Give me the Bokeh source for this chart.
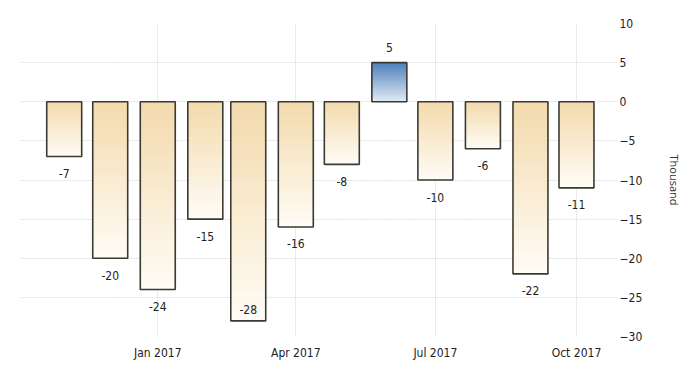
import datetime as dt
from bokeh.plotting import figure
from bokeh.models import ColumnDataSource, Range1d, FixedTicker, DatetimeTickFormatter
from bokeh.core.properties import value
from bokeh.embed import file_html
from bokeh.resources import INLINE

# ---- data ----
months = ["2016-11-01", "2016-12-01", "2017-01-01", "2017-02-01", "2017-03-01", "2017-04-01",
          "2017-05-01", "2017-06-01", "2017-07-01", "2017-08-01", "2017-09-01", "2017-10-01"]
values = [-7, -20, -24, -15, -28, -16, -8, 5, -10, -6, -22, -11]
labels = ["-7", "-20", "-24", "-15", "-28", "-16", "-8", "5", "-10", "-6", "-22", "-11"]
x_tick_dates = ["2017-01-01", "2017-04-01", "2017-07-01", "2017-10-01"]
y_ticks = [-30, -25, -20, -15, -10, -5, 0, 5, 10]
axis_title = "Thousand"

FONT = "DejaVu Sans Condensed"
DAY = 86400000.0


def ms(s):
    d = dt.datetime.strptime(s, "%Y-%m-%d")
    return (d - dt.datetime(1970, 1, 1)).total_seconds() * 1000.0


xs = [ms(m) for m in months]
half_w = 11.4 * DAY

# gradient colours (top -> bottom)
neg_top, neg_bot = (243, 218, 172), (255, 252, 246)
pos_top, pos_bot = (76, 128, 186), (226, 235, 245)


def mix(a, b, t):
    return "#%02x%02x%02x" % tuple(int(round(a[i] + (b[i] - a[i]) * t)) for i in range(3))


N = 30
ql, qr, qt, qb, qc = [], [], [], [], []
for x, v in zip(xs, values):
    top = max(v, 0)
    bot = min(v, 0)
    ctop, cbot = (pos_top, pos_bot) if v > 0 else (neg_top, neg_bot)
    for k in range(N):
        t0 = top - (top - bot) * k / N
        ql.append(x - half_w)
        qr.append(x + half_w)
        qt.append(t0)
        qb.append(bot)          # overlapping slices -> no seams
        qc.append(mix(ctop, cbot, (k + 0.5) / N))

p = figure(width=698, height=367, output_backend="svg", toolbar_location=None,
           x_axis_type="datetime", y_axis_location="right",
           x_range=Range1d(ms("2016-10-03") + 12 * 3600000, ms("2017-10-27") + 18 * 3600000),
           y_range=Range1d(-30, 10),
           min_border_left=20, min_border_top=23, min_border_bottom=31, min_border_right=81)
p.outline_line_color = None
p.background_fill_color = "white"

p.quad(left=ql, right=qr, top=qt, bottom=qb, fill_color=qc, line_color=None)

# label offsets in screen px: above positive bars, below negative ones,
# inside the bar when it would leave the plot area
yoff = []
for v in values:
    if v > 0:
        yoff.append(-15)
    elif v < -26:
        yoff.append(-11)
    else:
        yoff.append(17)

src = ColumnDataSource(dict(x=xs, v=values, zero=[0] * len(values), lab=labels, yoff=yoff))
p.vbar(x="x", top="v", bottom="zero", width=2 * half_w, source=src,
       fill_color=None, line_color="#3a3a34", line_width=1.6)
p.text(x="x", y="v", text="lab", y_offset="yoff", source=src, level="overlay",
       text_align="center", text_baseline="middle",
       text_font=value(FONT), text_font_size="12px", text_color="#222222")

# axes
xa = p.xaxis[0]
xa.ticker = FixedTicker(ticks=[ms(d) for d in x_tick_dates])
fmt = "%b %Y"
xa.formatter = DatetimeTickFormatter(days=fmt, months=fmt, years=fmt)
xa.axis_line_color = None
xa.major_tick_line_color = None
xa.minor_tick_line_color = None
xa.major_tick_out = 0
xa.major_tick_in = 0
xa.minor_tick_out = 0
xa.major_label_text_font = FONT
xa.major_label_text_font_size = "12px"
xa.major_label_text_color = "#222222"
xa.major_label_standoff = 9

ya = p.yaxis[0]
ya.ticker = FixedTicker(ticks=y_ticks)
ya.axis_line_color = None
ya.major_tick_line_color = None
ya.minor_tick_line_color = None
ya.major_tick_out = 0
ya.major_tick_in = 0
ya.minor_tick_out = 0
ya.major_label_text_font = FONT
ya.major_label_text_font_size = "12px"
ya.major_label_text_color = "#222222"
ya.major_label_text_align = "left"
ya.major_label_standoff = 2
ya.axis_label = axis_title
ya.axis_label_text_font = "Open Sans"
ya.axis_label_text_font_style = "normal"
ya.axis_label_text_font_size = "11px"
ya.axis_label_text_color = "#333333"
ya.axis_label_standoff = 22

for g in (p.xgrid[0], p.ygrid[0]):
    g.grid_line_color = "#d4d4d4"
    g.grid_line_dash = "1 1"
    g.grid_line_width = 1

open("out.html", "w").write(file_html(p, INLINE))
